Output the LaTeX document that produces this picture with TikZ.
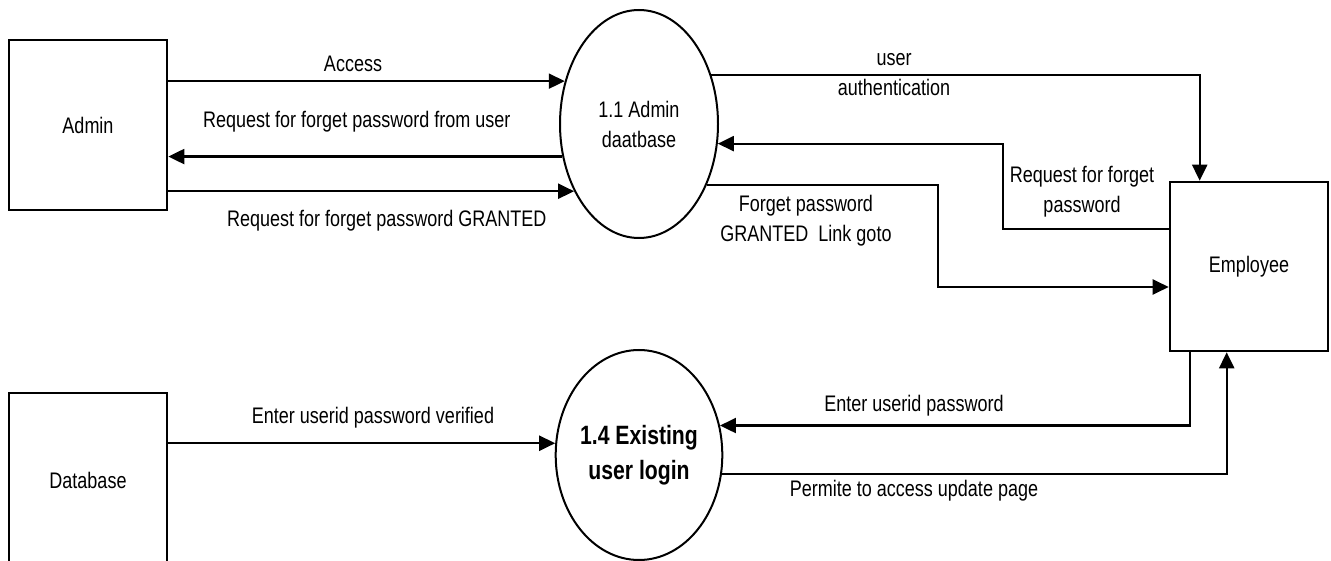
\documentclass[tikz,border=0pt]{standalone}
\usepackage{fontspec}
\setmainfont{Liberation Sans}[FakeStretch=0.8]
\usetikzlibrary{arrows.meta,shapes.geometric}
\newcommand\lblfont{\fontsize{22.5pt}{30pt}\selectfont}
\newcommand\boldlblfont{\fontsize{26.5pt}{35pt}\selectfont\bfseries}
\begin{document}
\begin{tikzpicture}[x=1pt,y=-1pt,
  ent/.style={draw, line width=2.6pt, minimum width=158pt, inner sep=0pt, font=\lblfont},
  proc/.style={ellipse, draw, line width=2pt, minimum width=158pt, inner sep=0pt, align=center},
  flow/.style={line width=2.2pt, -{Triangle[length=16pt,width=15pt]}},
  lbl/.style={font=\lblfont, align=center, inner sep=0pt}]
\useasboundingbox (0,0) rectangle (1331,561);
\clip (0,0) rectangle (1331,561);

% entities
\node[ent, minimum height=170pt] (admin) at (88,125) {Admin};
\node[ent, minimum height=174pt] (db) at (88,480) {Database};
\node[ent, minimum height=169pt] (emp) at (1249,266.5) {Employee};

% processes
\node[proc, minimum height=228pt, font=\lblfont] (e1) at (639,124) {1.1 Admin\\daatbase};
\node[proc, minimum height=210pt, font=\boldlblfont] (e2) at (639,455) {1.4 Existing\\user login};

% bend points
\coordinate (b1) at (1003,229);
\coordinate (b2) at (938,287);

% flows
\draw[flow] (admin.east |- e1.150) -- (e1.150);
\draw[flow] (e1.203) -- (admin.east |- e1.203);
\draw[flow] (admin.east |- e1.226) -- (e1.226);
\draw[flow] (e1.34) -| ([xshift=31pt]emp.north west);
\draw[flow] (emp.west |- b1) -- (b1) |- (e1.-14);
\draw[flow] (e1.-42) -| (b2) -- (emp.west |- b2);
\draw[flow] (db.east |- e2.172) -- (e2.172);
\draw[flow] ([xshift=21pt]emp.south west) |- (e2.20);
\draw[flow] (e2.-13) -| ([xshift=58pt]emp.south west);

% labels
\node[lbl] (lacc) at (353,64) {Access};
\node[lbl, anchor=west] (lreq) at (203,122) {Request for forget password from user};
\node[lbl, anchor=west] (lgr) at (227,221) {Request for forget password GRANTED};
\node[lbl] (lauth) at (894,75) {user\\authentication};
\node[lbl] (lfpg) at (806,221) {Forget password\\GRANTED~~Link goto};
\node[lbl] (lrf) at (1082,192) {Request for forget\\password};
\node[lbl] (lver) at (373,418) {Enter userid password verified};
\node[lbl] (lent) at (914,406) {Enter userid password};
\node[lbl] (lper) at (914,491) {Permite to access update page};
\end{tikzpicture}
\end{document}
